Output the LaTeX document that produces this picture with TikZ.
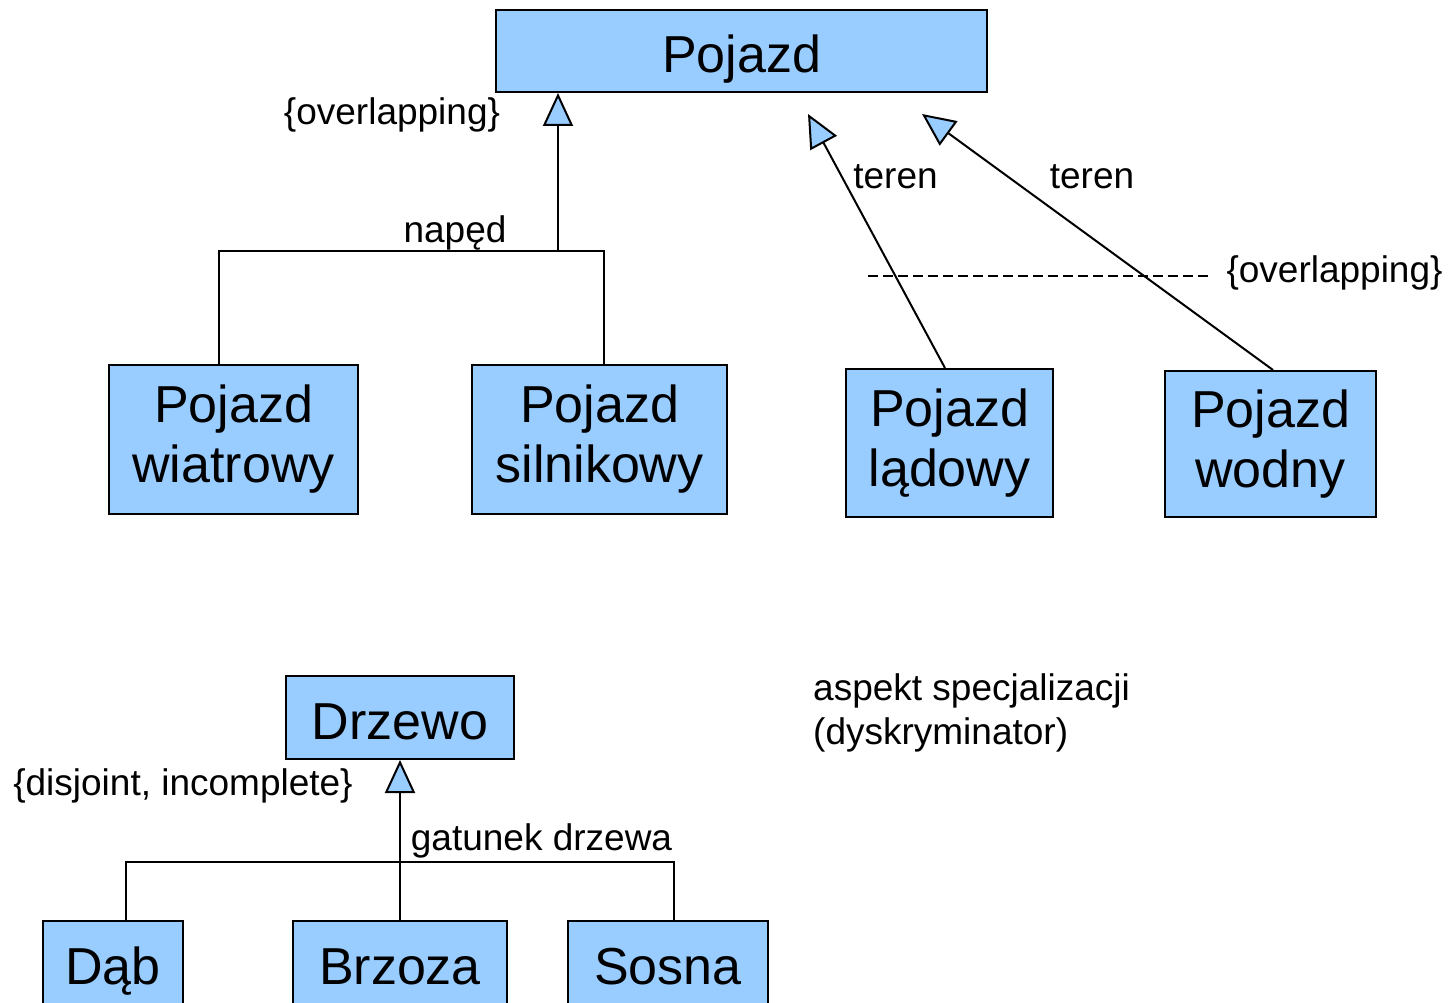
\documentclass[tikz,border=0pt]{standalone}
\usepackage{fontspec}
\setmainfont{Liberation Sans}
\definecolor{umlblue}{RGB}{153, 204, 255}
\usetikzlibrary{arrows.meta}
\tikzset{
  classbox/.style={
    rectangle, draw=black, line width=2pt, fill=umlblue, align=center,
    inner sep=0pt, font=\fontsize{52}{60}\selectfont
  },
  onelinebox/.style={classbox, text height=46pt, text depth=2pt},
  genline/.style={line width=2pt, draw=black},
  genarrow/.style={genline, -{Triangle[open, fill=umlblue, length=33pt, width=30pt]}},
  umllabel/.style={font=\fontsize{37}{44}\selectfont, inner sep=0pt},
}

\begin{document}
\begin{tikzpicture}[x=1pt, y=-1pt]
  \useasboundingbox (0,0) rectangle (1448,1003);

  % Pojazd and its subclasses
  \node[onelinebox, minimum width=491pt, minimum height=82pt] (pojazd) at (741.5,51) {Pojazd};
  \node[classbox, minimum width=249pt, minimum height=149pt] (wiatrowy) at (233.5,439) {Pojazd\\wiatrowy};
  \node[classbox, minimum width=255pt, minimum height=149pt] (silnikowy) at (599.5,439) {Pojazd\\silnikowy};
  \node[classbox, minimum width=207pt, minimum height=148pt] (ladowy) at (949.5,443) {Pojazd\\lądowy};
  \node[classbox, minimum width=211pt, minimum height=146pt] (wodny) at (1270.5,444) {Pojazd\\wodny};

  % shared generalization by drive
  \coordinate (napedjoin) at (558,251);
  \draw[genarrow] (napedjoin) -- (pojazd.south -| napedjoin);
  \draw[genline] ([xshift=-14.5pt]wiatrowy.north) |- (napedjoin) -| ([xshift=4.5pt]silnikowy.north);
  \node[umllabel, anchor=base] (ovlpleft) at (392,125) {\{overlapping\}};
  \node[umllabel, anchor=base] (naped) at (455,243) {napęd};

  % separate generalizations by terrain
  \coordinate (ladowytip) at (808,114);
  \coordinate (wodnytip) at (922,114);
  \draw[genarrow] ([xshift=-4.5pt]ladowy.north) -- (ladowytip);
  \draw[genarrow] ([xshift=2.5pt]wodny.north) -- (wodnytip);
  \node[umllabel, anchor=base] (terenA) at (895.5,189) {teren};
  \node[umllabel, anchor=base] (terenB) at (1092,189) {teren};

  % overlapping constraint across both terrain arrows
  \coordinate (dashL) at (868,276);
  \coordinate (dashR) at (1212,276);
  \draw[line width=2pt, dash pattern=on 10pt off 5pt] (dashL) -- (dashR);
  \node[umllabel, anchor=base] (ovlpright) at (1334.5,282) {\{overlapping\}};

  % Drzewo and its subclasses
  \node[onelinebox, minimum width=228pt, minimum height=83pt] (drzewo) at (400,717.5) {Drzewo};
  \node[onelinebox, minimum width=140pt, minimum height=83pt] (dab) at (113,962.5) {Dąb};
  \node[onelinebox, minimum width=214pt, minimum height=83pt] (brzoza) at (400,962.5) {Brzoza};
  \node[onelinebox, minimum width=200pt, minimum height=83pt] (sosna) at (668,962.5) {Sosna};

  \coordinate (gatunekjoin) at (400,862);
  \draw[genarrow] (brzoza.north) -- (drzewo.south);
  \draw[genline] ([xshift=13pt]dab.north) |- (gatunekjoin) -| ([xshift=6pt]sosna.north);
  \node[umllabel, anchor=base] (disjoint) at (183,795) {\{disjoint, incomplete\}};
  \node[umllabel, anchor=base] (gatunek) at (541.5,850) {gatunek drzewa};

  \node[umllabel, anchor=west, align=left] (aspekt) at (813,713) {aspekt specjalizacji\\(dyskryminator)};
\end{tikzpicture}
\end{document}
